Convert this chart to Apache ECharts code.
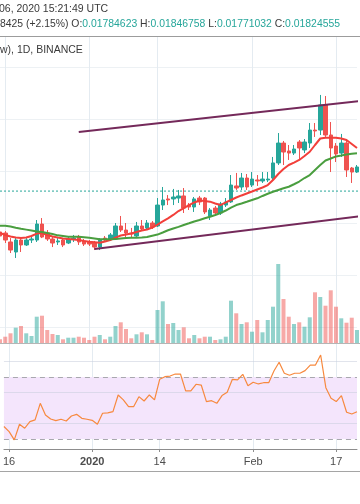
<!DOCTYPE html>
<html><head><meta charset="utf-8">
<script src="https://cdn.jsdelivr.net/npm/echarts@6/dist/echarts.min.js"></script>
<style>html,body{margin:0;padding:0;background:#fff}#c{width:360px;height:504px}</style>
</head><body><div id="c"></div>
<script>
const dates = [
'2019-12-15','2019-12-16','2019-12-17','2019-12-18','2019-12-19','2019-12-20','2019-12-21','2019-12-22','2019-12-23','2019-12-24',
'2019-12-25','2019-12-26','2019-12-27','2019-12-28','2019-12-29','2019-12-30','2019-12-31','2020-01-01','2020-01-02','2020-01-03',
'2020-01-04','2020-01-05','2020-01-06','2020-01-07','2020-01-08','2020-01-09','2020-01-10','2020-01-11','2020-01-12','2020-01-13',
'2020-01-14','2020-01-15','2020-01-16','2020-01-17','2020-01-18','2020-01-19','2020-01-20','2020-01-21','2020-01-22','2020-01-23',
'2020-01-24','2020-01-25','2020-01-26','2020-01-27','2020-01-28','2020-01-29','2020-01-30','2020-01-31','2020-02-01','2020-02-02',
'2020-02-03','2020-02-04','2020-02-05','2020-02-06','2020-02-07','2020-02-08','2020-02-09','2020-02-10','2020-02-11','2020-02-12',
'2020-02-13','2020-02-14','2020-02-15','2020-02-16','2020-02-17','2020-02-18','2020-02-19','2020-02-20','2020-02-21'];

const open = [0.017931,0.017923,0.017854,0.017777,0.017869,0.017831,0.017869,0.017869,0.017992,0.017923,
0.017877,0.017854,0.017869,0.017846,0.017877,0.017892,0.017862,0.017854,0.017846,0.017815,
0.017884,0.017877,0.017877,0.017977,0.017946,0.017923,0.017900,0.017977,0.017962,0.018000,
0.017977,0.018138,0.018185,0.018185,0.018192,0.018208,0.018138,0.018123,0.018192,0.018192,
0.018054,0.018115,0.018077,0.018138,0.018162,0.018285,0.018277,0.018346,0.018292,0.018331,
0.018323,0.018331,0.018346,0.018462,0.018615,0.018554,0.018538,0.018623,0.018562,0.018615,
0.018715,0.018715,0.018908,0.018677,0.018592,0.018538,0.018615,0.018423,0.018392];

const close = [0.017900,0.017869,0.017792,0.017869,0.017831,0.017869,0.017877,0.017992,0.017892,0.017877,
0.017846,0.017862,0.017831,0.017877,0.017884,0.017854,0.017838,0.017838,0.017815,0.017869,
0.017869,0.017908,0.017977,0.017946,0.017923,0.017915,0.017977,0.017954,0.018000,0.017969,
0.018138,0.018177,0.018177,0.018200,0.018208,0.018115,0.018123,0.018185,0.018162,0.018085,
0.018100,0.018077,0.018146,0.018162,0.018292,0.018269,0.018346,0.018277,0.018338,0.018323,
0.018338,0.018338,0.018462,0.018615,0.018546,0.018538,0.018569,0.018577,0.018623,0.018715,
0.018708,0.018908,0.018677,0.018577,0.018531,0.018615,0.018408,0.018392,0.018431];

const low = [0.017884,0.017846,0.017769,0.017731,0.017777,0.017823,0.017846,0.017854,0.017884,0.017862,
0.017815,0.017831,0.017815,0.017838,0.017854,0.017831,0.017823,0.017823,0.017792,0.017792,
0.017854,0.017869,0.017869,0.017931,0.017892,0.017892,0.017892,0.017946,0.017954,0.017954,
0.017969,0.018100,0.018138,0.018138,0.018154,0.018077,0.018100,0.018085,0.018138,0.018069,
0.018023,0.018062,0.018062,0.018123,0.018154,0.018254,0.018254,0.018254,0.018277,0.018285,
0.018308,0.018315,0.018331,0.018446,0.018446,0.018485,0.018523,0.018485,0.018538,0.018577,
0.018662,0.018677,0.018662,0.018392,0.018469,0.018508,0.018354,0.018308,0.018385];

const high = [0.017946,0.017938,0.017884,0.017884,0.017884,0.017884,0.017900,0.018023,0.018038,0.017946,
0.017892,0.017884,0.017884,0.017892,0.017908,0.017908,0.017877,0.017869,0.017862,0.017884,
0.017900,0.017923,0.018000,0.018054,0.018000,0.017962,0.018008,0.018023,0.018023,0.018015,
0.018192,0.018277,0.018215,0.018262,0.018254,0.018269,0.018154,0.018200,0.018208,0.018200,
0.018115,0.018131,0.018162,0.018192,0.018369,0.018385,0.018385,0.018377,0.018392,0.018369,
0.018392,0.018392,0.018508,0.018692,0.018631,0.018600,0.018600,0.018638,0.018646,0.018769,
0.018769,0.018985,0.018977,0.018777,0.018615,0.018685,0.018638,0.018431,0.018446];

const maFast = [0.017923,0.017908,0.017896,0.017888,0.017885,0.017888,0.017900,0.017919,0.017923,0.017908,
0.017896,0.017888,0.017881,0.017877,0.017873,0.017869,0.017862,0.017856,0.017852,0.017848,
0.017858,0.017869,0.017888,0.017904,0.017912,0.017919,0.017931,0.017942,0.017950,0.017965,
0.017988,0.018012,0.018035,0.018062,0.018092,0.018115,0.018138,0.018158,0.018173,0.018169,
0.018164,0.018150,0.018138,0.018158,0.018177,0.018196,0.018212,0.018227,0.018242,0.018258,
0.018273,0.018292,0.018331,0.018377,0.018415,0.018446,0.018465,0.018485,0.018515,0.018548,
0.018600,0.018650,0.018656,0.018656,0.018656,0.018650,0.018638,0.018608,0.018577];

const maSlow = [0.017979,0.017978,0.017973,0.017963,0.017955,0.017949,0.017942,0.017935,0.017930,0.017923,
0.017915,0.017905,0.017900,0.017895,0.017895,0.017895,0.017891,0.017887,0.017881,0.017875,
0.017875,0.017875,0.017876,0.017881,0.017885,0.017887,0.017887,0.017889,0.017892,0.017902,
0.017911,0.017927,0.017944,0.017958,0.017970,0.017985,0.017998,0.018012,0.018023,0.018036,
0.018048,0.018062,0.018077,0.018096,0.018119,0.018138,0.018150,0.018163,0.018177,0.018190,
0.018208,0.018225,0.018240,0.018254,0.018267,0.018279,0.018298,0.018319,0.018346,0.018369,
0.018408,0.018446,0.018481,0.018496,0.018512,0.018519,0.018527,0.018532,0.018536];

const volume = [4700,7300,10700,16300,18000,10700,8000,27300,28300,14000,
10000,9000,4700,6300,6300,7300,6300,4000,7300,9000,
4700,7300,18000,21700,15000,5700,9700,11700,9700,4000,
34000,42700,20000,21000,14000,16700,5700,9000,5700,7300,
7300,4000,4700,7300,43300,30700,20000,21700,12300,24000,
11700,24000,37300,80000,45000,27300,20000,21700,17300,26700,
51700,47000,38300,53700,37300,25700,21300,26300,14000];

const rsi = [38.0,34.7,29.4,39.5,36.9,41.2,42.3,53.0,45.5,42.9,
41.8,42.7,41.6,44.8,45.9,43.3,42.7,42.0,39.5,46.6,
46.8,47.6,58.4,55.2,50.9,50.9,57.3,54.5,58.4,55.2,
68.5,70.2,70.6,71.9,71.9,61.0,61.0,65.3,64.8,54.1,
54.7,53.0,58.0,60.1,68.5,68.1,71.7,64.4,66.6,65.5,
66.3,66.3,73.9,79.5,72.4,71.1,72.4,72.4,74.1,77.7,
77.7,84.2,63.1,56.2,54.1,58.0,47.2,46.1,47.6];

// trend lines: [day index, price]
const upperTrend = [[15, 0.018700], [72, 0.018954]];
const lowerTrend = [[18, 0.017800], [72, 0.018069]];
const lastPrice = 0.01824555;

const tickDates = ['2019-12-16','2020-01-01','2020-01-14','2020-02-01','2020-02-17'];
const tickTexts = ['16','2020','14','Feb','17'];

const rsiLevels = [40, 60, 80];
const rsiBand = [30, 70];

const UP = '#26a69a', DOWN = '#ef5350';
const FONT = 'Liberation Sans, Arial, sans-serif';
const tickIdx = tickDates.map(d => dates.indexOf(d));
const isTick = (i) => tickIdx.indexOf(i) >= 0;

const chart = echarts.init(document.getElementById('c'));
const candles = dates.map((d, i) => [open[i], close[i], low[i], high[i]]);
const volData = volume.map((v, i) => ({ value: v, itemStyle: { color: close[i] >= open[i] ? 'rgba(38,166,154,0.5)' : 'rgba(239,83,80,0.5)' } }));
const vGrid = { show: true, interval: (i) => isTick(i), lineStyle: { color: '#e4ebf1', width: 1 } };

const option = {
  animation: false,
  textStyle: { fontFamily: FONT },
  grid: [
    { left: 0, right: 3, top: 67, height: 260 },
    { left: 0, right: 3, top: 37, height: 307 },
    { left: 0, right: 3, top: 344, height: 105 }
  ],
  xAxis: [
    { type: 'category', gridIndex: 0, data: dates, boundaryGap: false, show: false },
    { type: 'value', gridIndex: 0, min: 0, max: dates.length - 1, show: false },
    { type: 'category', gridIndex: 1, data: dates, boundaryGap: false, axisLine: { show: false }, axisTick: { show: false }, axisLabel: { show: false }, splitLine: vGrid },
    { type: 'category', gridIndex: 2, data: dates, boundaryGap: false,
      axisLine: { show: true, lineStyle: { color: '#8d8d8d', width: 1 } },
      axisTick: { show: true, interval: (i) => isTick(i), length: 3, lineStyle: { color: '#8d8d8d' } },
      axisLabel: { show: true, interval: (i) => isTick(i), margin: 7, color: '#4d4d4d', fontSize: 11, fontFamily: FONT,
        formatter: (v) => { const k = tickDates.indexOf(v); if (k < 0) return ''; const t = tickTexts[k]; return /^\d{4}$/.test(t) ? '{b|' + t + '}' : t; },
        rich: { b: { fontWeight: 'bold', fontSize: 11, color: '#4d4d4d', fontFamily: FONT } } },
      splitLine: vGrid }
  ],
  yAxis: [
    { type: 'value', gridIndex: 0, min: 0.0172, max: 0.0192, interval: 0.0004, axisLine: { show: false }, axisTick: { show: false }, axisLabel: { show: false }, splitLine: { show: true, lineStyle: { color: '#edf1f4' } } },
    { type: 'value', gridIndex: 1, min: 0, max: 307000, show: false, splitLine: { show: false } },
    { type: 'value', gridIndex: 2, min: 23.5, max: 91.3, show: false, splitLine: { show: false } }
  ],
  series: [
    { type: 'bar', xAxisIndex: 2, yAxisIndex: 1, data: volData, barWidth: 4, z: 1, silent: true },
    { type: 'line', xAxisIndex: 1, yAxisIndex: 0, data: [[0, lastPrice], [dates.length + 2, lastPrice]], showSymbol: false, z: 2, clip: true,
      lineStyle: { type: [2, 2], color: '#26a69a', width: 1 } },
    { type: 'candlestick', xAxisIndex: 0, yAxisIndex: 0, data: candles, barWidth: 4, z: 3,
      itemStyle: { color: UP, color0: DOWN, borderColor: UP, borderColor0: DOWN, borderWidth: 1 } },
    { type: 'line', xAxisIndex: 0, yAxisIndex: 0, data: maFast, showSymbol: false, z: 4, lineStyle: { color: '#f23f3a', width: 2 } },
    { type: 'line', xAxisIndex: 0, yAxisIndex: 0, data: maSlow, showSymbol: false, z: 4, lineStyle: { color: '#4a9e3f', width: 2 } },
    { type: 'line', xAxisIndex: 1, yAxisIndex: 0, data: upperTrend, showSymbol: false, z: 5, clip: true, lineStyle: { color: '#74295a', width: 2 } },
    { type: 'line', xAxisIndex: 1, yAxisIndex: 0, data: lowerTrend, showSymbol: false, z: 5, clip: true, lineStyle: { color: '#74295a', width: 2 } },
    { type: 'line', xAxisIndex: 3, yAxisIndex: 2, data: rsi, showSymbol: false, z: 5, lineStyle: { color: '#f7893f', width: 1.2 },
      markArea: { silent: true, itemStyle: { color: '#f4e5fc' }, data: [[{ yAxis: rsiBand[0] }, { yAxis: rsiBand[1] }]] },
      markLine: { silent: true, symbol: 'none', label: { show: false },
        data: rsiLevels.map(v => ({ yAxis: v, lineStyle: { type: 'solid', color: 'rgba(200,205,220,0.55)', width: 1 } }))
          .concat(rsiBand.map(v => ({ yAxis: v, lineStyle: { type: [5, 4], color: '#a8a8ae', width: 1 } }))) } }
  ],
  graphic: [
    { type: 'text', left: -1, top: 4, style: { text: '06, 2020 15:21:49 UTC', fill: '#3a3a3a', fontSize: 10.5, fontFamily: FONT } },
    { type: 'text', left: 0, top: 19, style: {
        text: '{d|8425 (+2.15%) O:}{v|0.01784623} {d|H:}{v|0.01846758} {d|L:}{v|0.01771032} {d|C:}{v|0.01824555}',
        fontSize: 10.4, fontFamily: FONT,
        rich: { d: { fill: '#3a3a3a', fontSize: 10.4, fontFamily: FONT }, v: { fill: '#26a69a', fontSize: 10.4, fontFamily: FONT } } } },
    { type: 'line', shape: { x1: 0, y1: 36.5, x2: 360, y2: 36.5 }, style: { stroke: '#9c9c9c', lineWidth: 1 } },
    { type: 'text', left: 0, top: 45, z: 10, style: { text: 'w), 1D, BINANCE', fill: '#3a3a3a', fontSize: 10.5, fontFamily: FONT } },
    { type: 'line', shape: { x1: 0, y1: 343.5, x2: 360, y2: 343.5 }, style: { stroke: '#b5b5b5', lineWidth: 1 }, z: 10 },
    { type: 'line', shape: { x1: 0, y1: 471.5, x2: 360, y2: 471.5 }, style: { stroke: '#a5a5a5', lineWidth: 1 } }
  ]
};
chart.setOption(option);
</script></body></html>
